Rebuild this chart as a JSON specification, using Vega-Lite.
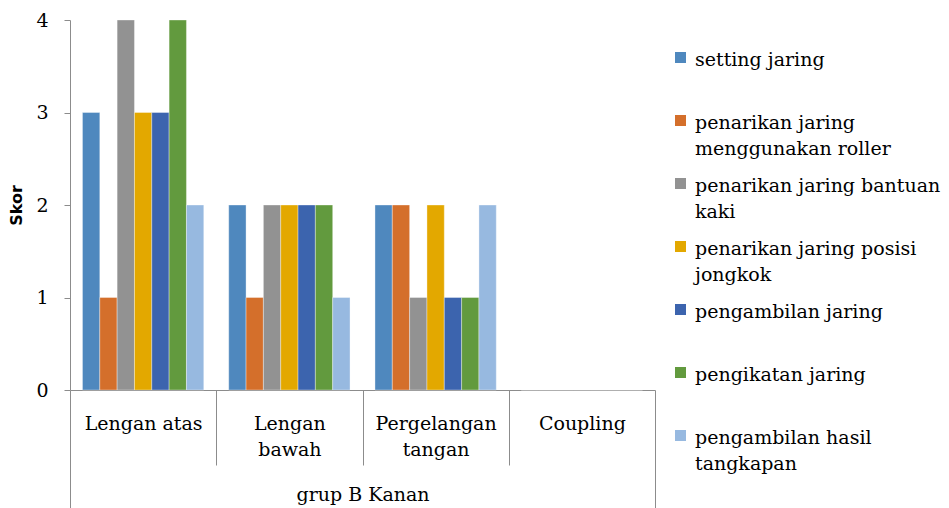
{
  "$schema": "https://vega.github.io/schema/vega-lite/v6.json",
  "width": 585,
  "height": 370,
  "autosize": {"type": "none"},
  "padding": {"left": 70, "top": 20, "right": 294, "bottom": 118},
  "config": {"view": {"stroke": null}, "font": "DejaVu Serif", "style": {"guide-label": {"lineHeight": 26}}},
  "data": {
    "values": [
      {"bagian": "Lengan atas", "aktivitas": "setting jaring", "skor": 3},
      {"bagian": "Lengan atas", "aktivitas": "penarikan jaring menggunakan roller", "skor": 1},
      {"bagian": "Lengan atas", "aktivitas": "penarikan jaring bantuan kaki", "skor": 4},
      {"bagian": "Lengan atas", "aktivitas": "penarikan jaring posisi jongkok", "skor": 3},
      {"bagian": "Lengan atas", "aktivitas": "pengambilan jaring", "skor": 3},
      {"bagian": "Lengan atas", "aktivitas": "pengikatan jaring", "skor": 4},
      {"bagian": "Lengan atas", "aktivitas": "pengambilan hasil tangkapan", "skor": 2},
      {"bagian": "Lengan bawah", "aktivitas": "setting jaring", "skor": 2},
      {"bagian": "Lengan bawah", "aktivitas": "penarikan jaring menggunakan roller", "skor": 1},
      {"bagian": "Lengan bawah", "aktivitas": "penarikan jaring bantuan kaki", "skor": 2},
      {"bagian": "Lengan bawah", "aktivitas": "penarikan jaring posisi jongkok", "skor": 2},
      {"bagian": "Lengan bawah", "aktivitas": "pengambilan jaring", "skor": 2},
      {"bagian": "Lengan bawah", "aktivitas": "pengikatan jaring", "skor": 2},
      {"bagian": "Lengan bawah", "aktivitas": "pengambilan hasil tangkapan", "skor": 1},
      {"bagian": "Pergelangan tangan", "aktivitas": "setting jaring", "skor": 2},
      {"bagian": "Pergelangan tangan", "aktivitas": "penarikan jaring menggunakan roller", "skor": 2},
      {"bagian": "Pergelangan tangan", "aktivitas": "penarikan jaring bantuan kaki", "skor": 1},
      {"bagian": "Pergelangan tangan", "aktivitas": "penarikan jaring posisi jongkok", "skor": 2},
      {"bagian": "Pergelangan tangan", "aktivitas": "pengambilan jaring", "skor": 1},
      {"bagian": "Pergelangan tangan", "aktivitas": "pengikatan jaring", "skor": 1},
      {"bagian": "Pergelangan tangan", "aktivitas": "pengambilan hasil tangkapan", "skor": 2},
      {"bagian": "Coupling", "aktivitas": "setting jaring", "skor": 0},
      {"bagian": "Coupling", "aktivitas": "penarikan jaring menggunakan roller", "skor": 0},
      {"bagian": "Coupling", "aktivitas": "penarikan jaring bantuan kaki", "skor": 0},
      {"bagian": "Coupling", "aktivitas": "penarikan jaring posisi jongkok", "skor": 0},
      {"bagian": "Coupling", "aktivitas": "pengambilan jaring", "skor": 0},
      {"bagian": "Coupling", "aktivitas": "pengikatan jaring", "skor": 0},
      {"bagian": "Coupling", "aktivitas": "pengambilan hasil tangkapan", "skor": 0}
    ]
  },
  "mark": {"type": "bar", "stroke": "white", "strokeOpacity": 0.35, "strokeWidth": 1},
  "encoding": {
    "x": {
      "field": "bagian",
      "type": "nominal",
      "sort": ["Lengan atas", "Lengan bawah", "Pergelangan tangan", "Coupling"],
      "scale": {"paddingInner": 0, "paddingOuter": 0},
      "axis": {
        "title": "grup B Kanan",
        "titleFont": "DejaVu Serif",
        "titleFontSize": 19,
        "titleFontWeight": "normal",
        "titleColor": "black",
        "titlePadding": -23,
        "labelAngle": 0,
        "labelFont": "DejaVu Serif",
        "labelFontSize": 19,
        "labelColor": "black",
        "labelLimit": 300,
        "labelLineHeight": 26,
        "labelBaseline": "top",
        "labelPadding": {"condition": {"test": "datum.value == 'Coupling' || datum.index >= 1 || datum.extra", "value": -94}, "value": -51},
        "labelExpr": "datum.value == 'Lengan bawah' ? ['Lengan', 'bawah'] : datum.value == 'Pergelangan tangan' ? ['Pergelangan', 'tangan'] : datum.label",
        "tickBand": "extent",
        "tickSize": {"condition": {"test": "datum.value == 'Coupling' || datum.index >= 1 || datum.extra", "value": 118}, "value": 75},
        "tickColor": "#8c8c8c",
        "domainColor": "#8c8c8c"
      }
    },
    "xOffset": {
      "field": "aktivitas",
      "sort": ["setting jaring", "penarikan jaring menggunakan roller", "penarikan jaring bantuan kaki", "penarikan jaring posisi jongkok", "pengambilan jaring", "pengikatan jaring", "pengambilan hasil tangkapan"],
      "scale": {"paddingInner": 0, "paddingOuter": 0.72}
    },
    "y": {
      "field": "skor",
      "type": "quantitative",
      "scale": {"domain": [0, 4], "nice": false},
      "axis": {
        "title": "Skor",
        "titleFont": "DejaVu Sans",
        "titleFontSize": 16,
        "titleFontWeight": "bold",
        "titleColor": "black",
        "titlePadding": 11,
        "values": [0, 1, 2, 3, 4],
        "grid": false,
        "tickSize": 6,
        "labelPadding": 16,
        "labelFont": "DejaVu Serif",
        "labelFontSize": 19,
        "labelColor": "black",
        "tickColor": "#8c8c8c",
        "domainColor": "#8c8c8c"
      }
    },
    "color": {
      "field": "aktivitas",
      "type": "nominal",
      "sort": ["setting jaring", "penarikan jaring menggunakan roller", "penarikan jaring bantuan kaki", "penarikan jaring posisi jongkok", "pengambilan jaring", "pengikatan jaring", "pengambilan hasil tangkapan"],
      "scale": {
        "domain": ["setting jaring", "penarikan jaring menggunakan roller", "penarikan jaring bantuan kaki", "penarikan jaring posisi jongkok", "pengambilan jaring", "pengikatan jaring", "pengambilan hasil tangkapan"],
        "range": ["#4F88BE", "#D46F2B", "#929292", "#E3A800", "#3C64AE", "#629A3E", "#97B9E0"]
      },
      "legend": {
        "title": null,
        "orient": "none",
        "legendX": 601,
        "legendY": 36,
        "padding": 0,
        "symbolType": "M-1,-2.45H1V-0.45H-1Z",
        "symbolSize": 121,
        "symbolStrokeWidth": 0,
        "labelFont": "DejaVu Serif",
        "labelFontSize": 19,
        "labelColor": "black",
        "labelLimit": 300,
        "labelOffset": 5,
        "labelBaseline": "alphabetic",
        "gridAlign": "all",
        "rowPadding": 17,
        "labelExpr": "datum.value == 'penarikan jaring menggunakan roller' ? ['penarikan jaring', 'menggunakan roller'] : datum.value == 'penarikan jaring bantuan kaki' ? ['penarikan jaring bantuan', 'kaki'] : datum.value == 'penarikan jaring posisi jongkok' ? ['penarikan jaring posisi', 'jongkok'] : datum.value == 'pengambilan hasil tangkapan' ? ['pengambilan hasil', 'tangkapan'] : [datum.label, '']"
      }
    }
  }
}
